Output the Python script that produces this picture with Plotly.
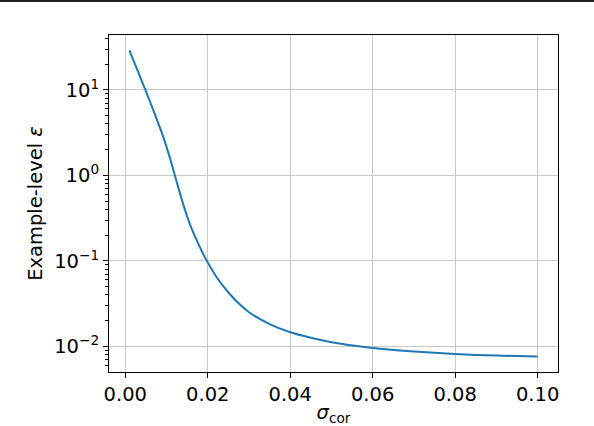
import plotly.graph_objects as go

# values
sigma_cor = [0.001, 0.002, 0.003, 0.004, 0.005, 0.006, 0.007, 0.008, 0.009, 0.010,
             0.011, 0.012, 0.013, 0.014, 0.015, 0.016, 0.017, 0.018, 0.019, 0.020,
             0.022, 0.025, 0.028, 0.030, 0.035, 0.040, 0.045, 0.050, 0.060, 0.070,
             0.080, 0.090, 0.100]
epsilon = [29.1, 22.1, 16.8, 12.7, 9.66, 7.28, 5.46, 4.07, 3.02, 2.16,
           1.50, 1.01, 0.684, 0.468, 0.331, 0.245, 0.188, 0.148, 0.1175, 0.0955,
           0.0661, 0.0427, 0.0302, 0.0251, 0.0182, 0.0146, 0.0126, 0.0112, 0.00955, 0.0087,
           0.00813, 0.0078, 0.00759]

x_ticks = [0.00, 0.02, 0.04, 0.06, 0.08, 0.10]
x_ticktext = ["0.00", "0.02", "0.04", "0.06", "0.08", "0.10"]
y_ticks = [0.01, 0.1, 1, 10]
y_ticktext = ["10<sup>−2</sup>", "10<sup>−1</sup>", "10<sup>0</sup>", "10<sup>1</sup>"]
y_minor = [m * 10 ** e for e in (-3, -2, -1, 0, 1) for m in range(2, 10)]

W, H = 594, 426
L, R, T, B = 109, 36, 35, 54
FONT = "DejaVu Sans"
FS = 19.5

fig = go.Figure()
fig.add_trace(go.Scatter(
    x=sigma_cor, y=epsilon, mode="lines",
    line=dict(color="#1f77b4", width=2, shape="spline", smoothing=0.8),
    showlegend=False,
))

axis_common = dict(
    showline=True, linecolor="black", linewidth=1, mirror=True,
    ticks="outside", ticklen=5, tickwidth=1, tickcolor="black",
    showgrid=True, gridcolor="#c8c8c8", gridwidth=1,
    zeroline=False, automargin=False,
    tickfont=dict(family=FONT, size=FS, color="black"),
)

fig.update_xaxes(
    **axis_common,
    range=[-0.00395, 0.10495],
    tickvals=x_ticks, ticktext=x_ticktext,
    title=dict(text="<i>σ</i><sub>cor</sub>", font=dict(family=FONT, size=FS, color="black"), standoff=4),
)
fig.update_yaxes(
    **axis_common,
    type="log",
    range=[-2.30, 1.643],
    tickvals=y_ticks, ticktext=y_ticktext,
    minor=dict(tickvals=y_minor, ticks="outside", ticklen=3, tickcolor="black", showgrid=False),
    title=dict(text="Example-level <i>ε</i>", font=dict(family=FONT, size=FS, color="black"), standoff=6),
)

# thin dark rule along the top edge of the image
pw, ph = W - L - R, H - T - B
fig.add_shape(type="line", xref="paper", yref="paper",
              x0=-L / pw, x1=1 + R / pw, y0=1 + (T - 1) / ph, y1=1 + (T - 1) / ph,
              line=dict(color="#222222", width=2))

fig.update_layout(
    width=W, height=H,
    margin=dict(l=L, r=R, t=T, b=B, pad=0),
    plot_bgcolor="white", paper_bgcolor="white",
    font=dict(family=FONT, color="black"),
)

# drop the page's default body margin so the figure sits at the window corner
fig.write_html("out.html", config={"displayModeBar": False},
               post_script="document.body.style.margin='0px';")
